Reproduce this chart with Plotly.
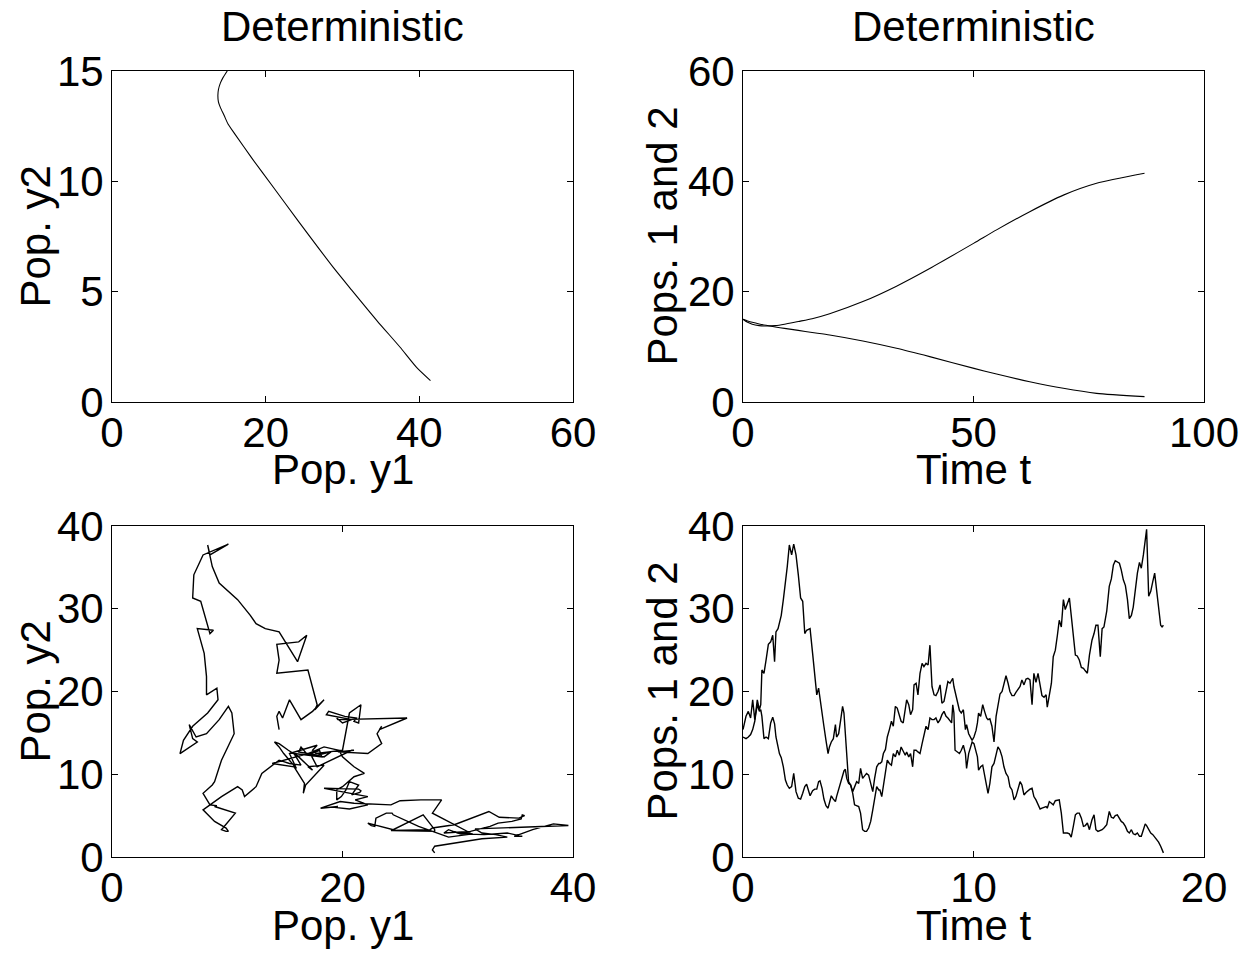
import plotly.graph_objects as go

# ---------------- deterministic solution ----------------
t_det = [0, 1, 2, 3.5, 5, 7, 9, 12, 15, 18.8, 26, 33.3, 40.5, 50.1, 55, 62.2, 69.5, 76.7, 87.1]
y1_det = [15, 14.45, 14.1, 13.85, 13.78, 13.85, 14.1, 14.6, 15.1, 16.0, 18.2, 21.0, 24.2,
          28.8, 31.2, 34.5, 37.5, 39.64, 41.45]
y2_det = [15, 14.7, 14.45, 14.15, 13.9, 13.6, 13.35, 12.98, 12.6, 12.14, 11.05, 9.73, 8.22,
          6.1, 5.07, 3.68, 2.48, 1.57, 0.97]

# ---------------- stochastic sample path ----------------
t_sto = [
    0.00, 0.13, 0.23, 0.33, 0.42, 0.51, 0.56, 0.62, 0.71, 0.77, 0.82, 0.91, 1.00, 1.10, 1.20, 1.29,
    1.37, 1.43, 1.52, 1.58, 1.66, 1.75, 1.84, 1.92, 2.01, 2.11, 2.20, 2.30, 2.40, 2.50, 2.59, 2.68, 2.76,
    2.91, 3.02, 3.11, 3.20, 3.28, 3.34, 3.43, 3.51, 3.60, 3.69, 3.75, 3.83, 3.92, 4.01, 4.06, 4.15,
    4.24, 4.32, 4.38, 4.44, 4.50, 4.58, 4.67, 4.76, 4.84, 4.93, 5.02, 5.10, 5.19, 5.28, 5.36, 5.45,
    5.54, 5.63, 5.71, 5.80, 5.89,
    5.94, 6.02, 6.09, 6.18, 6.26, 6.35, 6.44, 6.52, 6.61, 6.69, 6.78, 6.86, 6.95, 7.04, 7.10, 7.19,
    7.27, 7.36, 7.42, 7.51, 7.59, 7.68, 7.77, 7.85, 7.94, 8.03, 8.11, 8.20, 8.29, 8.37, 8.46, 8.55,
    8.63, 8.72, 8.81, 8.89, 8.98,
    9.05, 9.10, 9.15, 9.20, 9.30, 9.39, 9.47, 9.56, 9.65, 9.70, 9.79, 9.88, 9.94, 10.02, 10.11, 10.17,
    10.22, 10.31, 10.40, 10.48, 10.57, 10.63, 10.71, 10.80, 10.89, 10.98, 11.06, 11.15, 11.24, 11.32,
    11.41, 11.50, 11.58, 11.67, 11.76, 11.84, 11.93, 12.02,
    12.10, 12.19, 12.28, 12.36, 12.45, 12.54, 12.62, 12.71, 12.80, 12.89, 12.97, 13.06, 13.15, 13.20,
    13.29, 13.38, 13.46, 13.55, 13.64, 13.72, 13.81, 13.90, 13.98, 14.07, 14.16, 14.24, 14.33, 14.42,
    14.50, 14.59, 14.68, 14.77, 14.85, 14.94, 15.03,
    15.14, 15.23, 15.31, 15.40, 15.50, 15.58, 15.66, 15.78, 15.89, 15.98, 16.07, 16.15, 16.24, 16.33,
    16.41, 16.50, 16.59, 16.68, 16.76, 16.85, 16.93, 17.02, 17.11, 17.20, 17.28, 17.37, 17.45, 17.51,
    17.60, 17.69, 17.78, 17.86, 17.95, 18.03, 18.12, 18.18, 18.24,
]
y1_sto = [
    14.5, 14.3, 14.5, 14.8, 15.4, 16.4, 17.4, 18.4, 17.6, 17.8, 17.0, 14.3, 14.5, 14.3, 16.2, 16.9,
    16.1, 14.5, 13.3, 12.5, 12.0, 10.9, 9.3, 8.7, 8.3, 8.5, 10.1, 7.9, 7.1, 7.0, 7.7, 8.5, 8.8,
    7.4, 8.0, 8.2, 8.2, 9.1, 9.2, 8.3, 7.0, 6.2, 5.9, 6.7, 7.4, 7.0, 6.7, 7.3, 8.2,
    9.3, 10.1, 10.4, 10.6, 9.5, 8.9, 8.7, 7.9, 8.5, 9.1, 8.9, 10.7, 9.5, 9.9, 10.1, 9.9,
    8.9, 7.9, 9.5, 10.9, 11.3,
    11.3, 11.5, 12.5, 13.0, 14.5, 15.4, 16.4, 15.8, 18.2, 18.0, 17.0, 16.4, 16.2, 17.8, 19.0, 18.4,
    17.2, 17.8, 20.8, 21.0, 19.6, 22.2, 23.4, 23.0, 23.4, 23.2, 25.6, 20.6, 19.6, 19.5, 20.0, 20.8,
    18.6, 18.8, 20.2, 21.2, 21.0,
    21.4, 21.6, 20.6, 20.0, 18.8, 17.7, 17.4, 17.8, 15.4, 16.0, 14.9, 14.5, 14.1, 14.5, 15.3, 16.2,
    17.4, 17.0, 18.4, 17.6, 16.8, 16.6, 16.7, 15.8, 13.9, 17.0, 18.4, 19.7, 20.0, 21.0,
    21.9, 21.0, 20.0, 19.5, 19.5, 19.9, 20.3, 20.6,
    21.4, 20.8, 21.5, 21.6, 21.4, 18.4, 22.2, 21.1, 22.2, 20.6, 19.5, 19.3, 19.6, 18.1,
    19.8, 21.0, 24.2, 25.0, 26.8, 28.6, 27.8, 31.1, 29.9, 30.7, 31.3, 29.2, 26.6, 24.4,
    24.3, 23.8, 22.9, 22.8, 22.5, 22.2, 24.4,
    26.2, 27.0, 28.0, 28.0, 24.2, 27.6, 27.8, 29.7, 32.7, 33.6, 35.3, 35.8, 35.6, 35.5,
    34.7, 33.5, 32.8, 31.1, 28.8, 29.2, 30.2, 32.3, 34.3, 35.6, 34.9, 36.5, 38.3, 39.6,
    31.5, 32.1, 33.3, 34.3, 32.1, 30.1, 28.0, 27.8, 28.0,
]
y2_sto = [
    15.4, 17.0, 17.6, 16.8, 19.0, 16.6, 17.6, 19.0, 17.8, 18.4, 22.6, 22.2, 23.8, 25.7, 26.0, 26.8,
    23.6, 27.2, 27.6, 28.2, 29.2, 31.1, 33.1, 35.1, 37.7, 36.5, 37.8, 36.5, 34.1, 31.3, 30.9, 27.0, 27.4,
    27.6, 24.6, 21.8, 19.6, 20.4, 19.0, 17.4, 15.8, 14.1, 12.5, 13.3, 13.9, 14.3, 16.0, 14.5, 14.9,
    16.6, 18.2, 17.4, 14.9, 11.7, 9.1, 8.7, 7.7, 6.3, 6.2, 6.1, 5.3, 3.3, 3.1, 3.1, 3.5,
    4.3, 5.7, 7.3, 8.5, 8.1,
    8.1, 7.3, 8.5, 10.1, 11.7, 11.3, 11.1, 12.5, 12.1, 12.9, 12.3, 13.3, 12.7, 12.3, 12.7, 12.1,
    12.5, 10.9, 12.9, 12.9, 12.7, 12.5, 13.7, 14.9, 15.8, 15.4, 16.8, 16.6, 16.6, 16.8, 16.2, 16.6,
    17.2, 17.6, 17.0, 16.8, 16.4,
    16.2, 18.4, 17.4, 12.9, 12.7, 12.5, 12.9, 13.5, 12.5, 10.7, 12.5, 13.3, 13.9, 13.7, 12.9, 12.1,
    10.5, 10.9, 11.1, 9.9, 8.7, 7.7, 8.9, 10.9, 11.3, 12.5, 13.3, 12.9, 12.1, 10.9,
    10.1, 9.7, 8.5, 8.1, 6.9, 7.3, 8.1, 9.1,
    8.7, 7.5, 7.8, 8.0, 8.2, 8.3, 7.3, 6.9, 6.3, 5.8, 5.9, 6.0, 6.1, 5.9,
    6.7, 6.5, 6.3, 6.8, 6.9, 6.9, 5.3, 2.9, 2.9, 2.9, 2.8, 2.4, 3.7, 5.1,
    5.3, 5.3, 4.7, 3.7, 3.8, 4.1, 3.3,
    4.5, 5.1, 3.3, 3.1, 3.2, 3.3, 3.5, 3.9, 5.5, 4.8, 4.7, 5.0, 5.1, 4.6,
    4.3, 4.1, 3.7, 3.1, 2.9, 3.3, 2.8, 2.7, 2.9, 2.5, 2.5, 3.3, 4.0, 3.8,
    3.4, 2.9, 2.7, 2.4, 2.2, 1.8, 1.3, 0.85, 0.5,
]

panel_title = "Deterministic"
FONT = "Liberation Sans, Arial, Helvetica, sans-serif"
FS = 42
BLACK = "#000000"

fig = go.Figure()
line_det = dict(color=BLACK, width=1.1, shape="spline", smoothing=0.6)
line_sto = dict(color=BLACK, width=1.4)

fig.add_trace(go.Scatter(x=y1_det, y=y2_det, mode="lines", line=line_det, xaxis="x", yaxis="y"))
fig.add_trace(go.Scatter(x=t_det, y=y1_det, mode="lines", line=line_det, xaxis="x2", yaxis="y2"))
fig.add_trace(go.Scatter(x=t_det, y=y2_det, mode="lines", line=line_det, xaxis="x2", yaxis="y2"))
fig.add_trace(go.Scatter(x=y1_sto, y=y2_sto, mode="lines", line=line_sto, xaxis="x3", yaxis="y3"))
fig.add_trace(go.Scatter(x=t_sto, y=y1_sto, mode="lines", line=line_sto, xaxis="x4", yaxis="y4"))
fig.add_trace(go.Scatter(x=t_sto, y=y2_sto, mode="lines", line=line_sto, xaxis="x4", yaxis="y4"))

W, H = 1251, 953
OX, OY = 8, 8  # page body margin offset


def px(xp):
    return (xp - OX) / W


def py(yp):
    return 1 - (yp - OY) / H


XL = [px(112), px(573)]
XR = [px(743), px(1204)]
YT = [py(402), py(71)]
YB = [py(857), py(526)]


def ax(domain, rng, dtick, anchor, is_x):
    return dict(
        domain=domain, range=rng, dtick=dtick, tick0=0, anchor=anchor,
        showline=True, linecolor=BLACK, linewidth=1, mirror="ticks",
        ticks="inside", ticklen=6, tickwidth=1, tickcolor=BLACK,
        showgrid=False, zeroline=False, automargin=False,
        ticklabelstandoff=(-6 if is_x else -1),
        tickfont=dict(family=FONT, size=FS, color=BLACK),
    )


fig.update_layout(
    width=W, height=H, showlegend=False,
    paper_bgcolor="white", plot_bgcolor="white",
    margin=dict(l=0, r=0, t=0, b=0, pad=0, autoexpand=False),
    font=dict(family=FONT, size=FS, color=BLACK),
    xaxis=ax(XL, [0, 60], 20, "y", True), yaxis=ax(YT, [0, 15], 5, "x", False),
    xaxis2=ax(XR, [0, 100], 50, "y2", True), yaxis2=ax(YT, [0, 60], 20, "x2", False),
    xaxis3=ax(XL, [0, 40], 20, "y3", True), yaxis3=ax(YB, [0, 40], 10, "x3", False),
    xaxis4=ax(XR, [0, 20], 10, "y4", True), yaxis4=ax(YB, [0, 40], 10, "x4", False),
)

anns = []
def txt(text, x, y, angle=0):
    anns.append(dict(text=text, x=x, y=y, xref="paper", yref="paper", showarrow=False,
                     xanchor="center", yanchor="middle", textangle=angle,
                     font=dict(family=FONT, size=FS, color=BLACK)))

xc_l = (XL[0] + XL[1]) / 2
xc_r = (XR[0] + XR[1]) / 2
txt(panel_title, xc_l, py(27))
txt(panel_title, xc_r, py(27))
txt("Pop. y1", xc_l, py(469))
txt("Time t", xc_r, py(469))
txt("Pop. y1", xc_l, py(925))
txt("Time t", xc_r, py(925))
txt("Pop. y2", px(35), (YT[0] + YT[1]) / 2, -90)
txt("Pops. 1 and 2", px(662), (YT[0] + YT[1]) / 2, -90)
txt("Pop. y2", px(35), (YB[0] + YB[1]) / 2, -90)
txt("Pops. 1 and 2", px(662), (YB[0] + YB[1]) / 2, -90)
fig.update_layout(annotations=anns)

fig.write_html("out.html")
